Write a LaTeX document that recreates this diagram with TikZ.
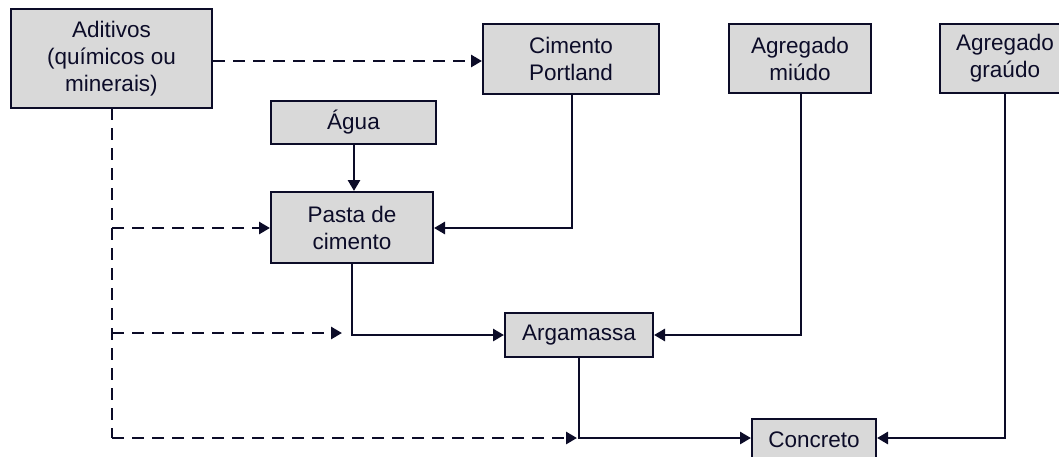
\documentclass[tikz,border=0pt]{standalone}
\usepackage{fontspec}
\setmainfont{Liberation Sans}
\usetikzlibrary{arrows.meta}
\definecolor{ink}{RGB}{12,12,40}
\definecolor{boxfill}{RGB}{217,217,217}
\begin{document}
\begin{tikzpicture}[x=1pt,y=-1pt,
  box/.style={draw=ink,fill=boxfill,line width=2pt,text=ink,align=center,
    font=\fontsize{22.5}{27}\selectfont,inner sep=0pt},
  flow/.style={draw=ink,line width=2.8pt,-{Triangle[length=11pt,width=12pt]}},
  dflow/.style={flow,dash pattern=on 12pt off 8pt},
  dline/.style={draw=ink,line width=2.8pt,dash pattern=on 12pt off 8pt}]
\useasboundingbox (0,0) rectangle (1059,456);
\clip (0,0) rectangle (1059,456);

\node[box,minimum width=201pt,minimum height=99pt] (adit) at (111.5,58.5) {Aditivos\\(químicos ou\\minerais)};
\node[box,minimum width=176pt,minimum height=70pt] (cim) at (571,59) {Cimento\\Portland};
\node[box,minimum width=142pt,minimum height=69pt] (miudo) at (800,58.5) {Agregado\\miúdo};
\node[box,minimum width=130pt,minimum height=69pt] (graudo) at (1005,58.5) {Agregado\\graúdo};
\node[box,minimum width=165pt,minimum height=43pt] (agua) at (353.5,122.5) {Água};
\node[box,minimum width=162pt,minimum height=71pt] (pasta) at (352,227.5) {Pasta de\\cimento};
\node[box,minimum width=148pt,minimum height=44pt] (arg) at (579,335) {Argamassa};
\node[box,minimum width=124pt,minimum height=42pt] (conc) at (814,440) {Concreto};

\coordinate (dtop) at (112,108);
\coordinate (d1) at (112,228);
\coordinate (d2) at (112,333);
\coordinate (d3) at (112,438);
\coordinate (p1) at (352,333);
\coordinate (p2) at (579,438);

% dashed additive lines
\draw[dflow] (adit.east |- 0,61) -- (cim.west |- 0,61);
\draw[dline] (dtop) -- (d3);
\draw[dflow] (d1) -- (pasta.west |- d1);
\draw[dflow] (d2) -- ([xshift=-10pt]p1);
\draw[dflow] (d3) -- ([xshift=-2pt]p2);

% solid flows
\draw[flow] (agua.south -| 354,0) -- (pasta.north -| 354,0);
\draw[flow] (cim.south -| 572,0) |- (pasta.east |- d1);
\draw[flow] (pasta.south) |- (arg.west);
\draw[flow] (miudo.south -| 801,0) |- (arg.east);
\draw[flow] (arg.south) |- (conc.west |- p2);
\draw[flow] (graudo.south) |- (conc.east |- p2);
\end{tikzpicture}
\end{document}
